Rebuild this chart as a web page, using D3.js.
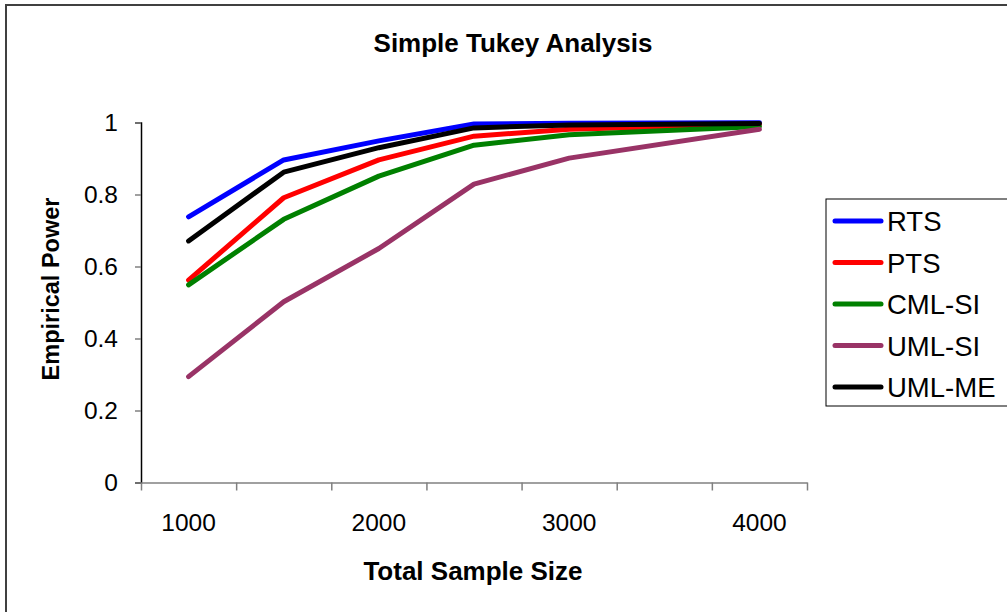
<!DOCTYPE html>
<html><head><meta charset="utf-8">
<script src="https://cdn.jsdelivr.net/npm/d3@7"></script>
<style>
body{margin:0;background:#fff;}
svg{display:block;font-family:"Liberation Sans",Arial,sans-serif;}
</style></head>
<body>
<svg id="chart" width="1007" height="612"></svg>
<script>
const categories = ["1000","1500","2000","2500","3000","3500","4000"];
const tickLabels = ["1000","2000","3000","4000"];
const yTicks = [0, 0.2, 0.4, 0.6, 0.8, 1];
const seriesNames = ["RTS","PTS","CML-SI","UML-SI","UML-ME"];
const RTS    = [0.738, 0.896, 0.949, 0.996, 0.998, null, 0.999];
const PTS    = [0.562, 0.791, 0.896, 0.962, 0.981, null, 0.995];
const CML_SI = [0.549, 0.731, 0.851, 0.937, 0.966, null, 0.989];
const UML_SI = [0.294, 0.502, 0.650, 0.829, 0.901, null, 0.981];
const UML_ME = [0.671, 0.862, 0.930, 0.985, 0.993, null, 0.997];
const seriesValues = [RTS, PTS, CML_SI, UML_SI, UML_ME];
const colors = ["#0000FF","#FF0000","#008000","#993366","#000000"];

const svg = d3.select("#chart");
const L = 141, R = 807, T = 122.5, B = 482.5;
const FF = "Liberation Sans, Arial, sans-serif";

// outer frame
svg.append("rect").attr("x",6).attr("y",5).attr("width",1010).attr("height",620)
  .attr("fill","none").attr("stroke","#404040").attr("stroke-width",2);

const x = d3.scaleBand().domain(categories).range([L, R]).padding(0);
const xb = d3.scaleLinear().domain([0, categories.length]).range([L, R]);
const y = d3.scaleLinear().domain([0, 1]).range([B, T]);

// y axis
const yAxis = svg.append("g").attr("transform", `translate(${L},0)`)
  .call(d3.axisLeft(y).tickValues(yTicks).tickFormat(d3.format("~g")).tickSize(6).tickPadding(17));
yAxis.select(".domain").attr("stroke","#000").attr("stroke-width",1.5);
yAxis.selectAll(".tick line").attr("stroke","#808080").attr("stroke-width",1.5);
yAxis.selectAll(".tick text").attr("font-size",24.5).attr("fill","#000").attr("font-family",FF);

// x axis boundary ticks
const xAxis = svg.append("g").attr("transform", `translate(0,${B})`)
  .call(d3.axisBottom(xb).tickValues(d3.range(categories.length + 1)).tickFormat("").tickSize(8).tickSizeOuter(0));
xAxis.select(".domain").attr("stroke","#808080").attr("stroke-width",1.5);
xAxis.selectAll(".tick line").attr("stroke","#808080").attr("stroke-width",1.5);

// x labels
const xLab = svg.append("g").attr("transform", `translate(0,${B})`)
  .call(d3.axisBottom(x).tickValues(tickLabels).tickSize(0).tickPadding(31));
xLab.select(".domain").remove();
xLab.selectAll(".tick text").attr("font-size",24.5).attr("fill","#000").attr("font-family",FF);

// lines
const line = d3.line()
  .x(d => x(d.c) + x.bandwidth() / 2)
  .y(d => y(d.v));
seriesValues.forEach((vals, i) => {
  const pts = vals.map((v, j) => ({c: categories[j], v})).filter(d => d.v !== null);
  svg.append("path").datum(pts).attr("d", line)
    .attr("fill","none").attr("stroke", colors[i]).attr("stroke-width",5)
    .attr("stroke-linejoin","round").attr("stroke-linecap","round");
});

// titles
svg.append("text").attr("x",513).attr("y",52).attr("text-anchor","middle")
  .attr("font-size",26).attr("font-weight","bold").text("Simple Tukey Analysis");
svg.append("text").attr("x",473).attr("y",580).attr("text-anchor","middle")
  .attr("font-size",26).attr("font-weight","bold").text("Total Sample Size");
svg.append("text").attr("transform","translate(59,289) rotate(-90)").attr("text-anchor","middle")
  .attr("font-size",23.5).attr("font-weight","bold").text("Empirical Power");

// legend
svg.append("rect").attr("x",826).attr("y",199).attr("width",190).attr("height",207)
  .attr("fill","#fff").attr("stroke","#000").attr("stroke-width",1);
seriesNames.forEach((n, i) => {
  const yy = 221 + i * 41.5;
  svg.append("line").attr("x1",835).attr("x2",881).attr("y1",yy).attr("y2",yy)
    .attr("stroke",colors[i]).attr("stroke-width",5).attr("stroke-linecap","round");
  svg.append("text").attr("x",887).attr("y",yy + 10).attr("font-size",27.5).text(n);
});
</script>
</body></html>
